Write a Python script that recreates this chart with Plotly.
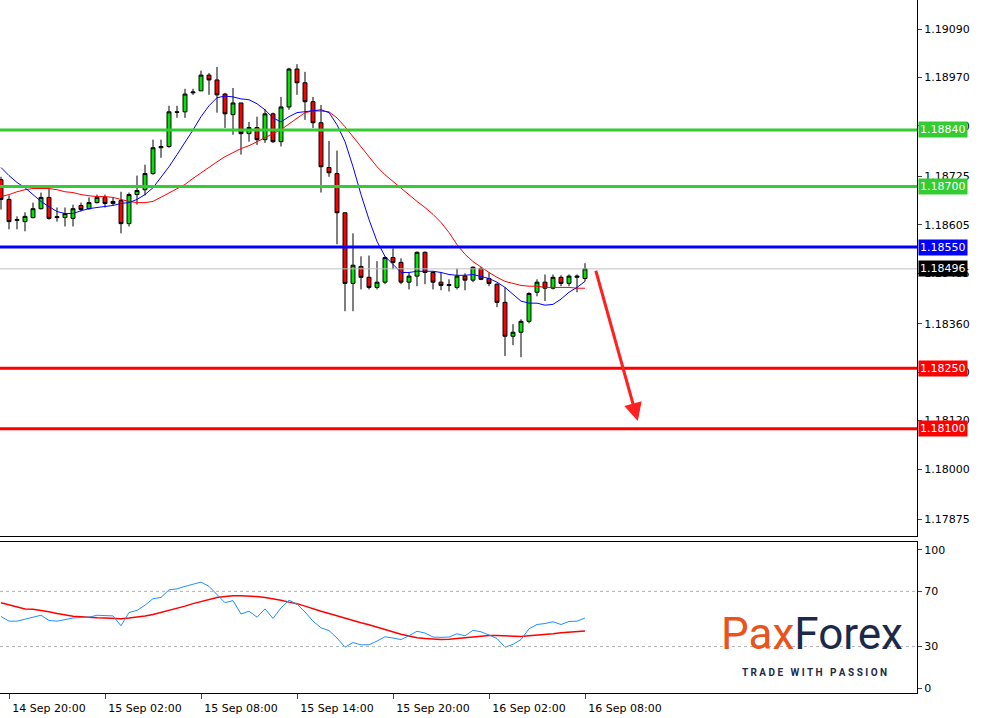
import plotly.graph_objects as go
from plotly.subplots import make_subplots

# EURUSD M30, 74 candles (index 0 = 14 Sep 19:30)
opens = [118717, 118668, 118616, 118613, 118623, 118645, 118673, 118623, 118623, 118621,
         118653, 118645, 118660, 118673, 118658, 118665, 118608, 118680, 118692, 118732,
         118796, 118799, 118885, 118885, 118932, 118937, 118976, 118964, 118929, 118878,
         118907, 118831, 118846, 118816, 118880, 118811, 118897, 118991, 118957, 118910,
         118858, 118747, 118732, 118635, 118460, 118502, 118475, 118450, 118463, 118524,
         118512, 118463, 118478, 118537, 118487, 118463, 118455, 118450, 118478, 118468,
         118497, 118472, 118458, 118413, 118329, 118339, 118366, 118438, 118463, 118448,
         118475, 118460, 118475, 118472]
highs = [118724, 118678, 118626, 118636, 118660, 118685, 118697, 118648, 118648, 118655,
         118660, 118673, 118680, 118680, 118673, 118687, 118685, 118727, 118754, 118816,
         118816, 118900, 118900, 118942, 118942, 118987, 118981, 118996, 118932, 118944,
         118907, 118860, 118873, 118892, 118883, 118922, 118994, 119003, 118984, 118922,
         118902, 118813, 118789, 118635, 118584, 118527, 118529, 118515, 118527, 118547,
         118522, 118487, 118539, 118539, 118490, 118487, 118470, 118497, 118485, 118502,
         118500, 118487, 118460, 118450, 118359, 118371, 118438, 118470, 118482, 118482,
         118480, 118482, 118482, 118510]
lows = [118643, 118594, 118594, 118589, 118621, 118643, 118618, 118613, 118601, 118601,
        118638, 118643, 118658, 118648, 118653, 118584, 118601, 118655, 118678, 118729,
        118771, 118796, 118870, 118870, 118927, 118937, 118927, 118883, 118845, 118828,
        118779, 118811, 118803, 118808, 118808, 118799, 118890, 118927, 118865, 118845,
        118685, 118724, 118557, 118391, 118391, 118445, 118445, 118445, 118458, 118495,
        118458, 118445, 118453, 118458, 118445, 118443, 118440, 118445, 118443, 118463,
        118468, 118453, 118401, 118280, 118307, 118277, 118361, 118428, 118416, 118445,
        118453, 118453, 118438, 118465]
closes = [118668, 118613, 118618, 118626, 118645, 118673, 118621, 118625, 118633, 118645,
          118643, 118660, 118673, 118658, 118663, 118608, 118680, 118690, 118732, 118796,
          118799, 118885, 118884, 118929, 118934, 118976, 118964, 118927, 118880, 118907,
          118831, 118846, 118816, 118880, 118811, 118897, 118991, 118957, 118910, 118858,
          118749, 118734, 118635, 118460, 118505, 118475, 118450, 118463, 118524, 118512,
          118463, 118478, 118537, 118487, 118463, 118455, 118457, 118478, 118468, 118500,
          118470, 118460, 118413, 118329, 118339, 118366, 118435, 118463, 118448, 118475,
          118460, 118478, 118478, 118496]
ma_fast = [118747, 118727, 118710, 118697, 118680, 118663, 118650, 118638, 118633, 118633,
           118640, 118645, 118648, 118650, 118653, 118658, 118660, 118668, 118680, 118697,
           118722, 118749, 118779, 118808, 118840, 118873, 118900, 118920, 118924, 118922,
           118917, 118915, 118905, 118890, 118870, 118860, 118873, 118883, 118885, 118887,
           118890, 118883, 118853, 118811, 118749, 118680, 118618, 118564, 118527, 118507,
           118487, 118487, 118490, 118490, 118490, 118487, 118482, 118480, 118480, 118482,
           118477, 118472, 118463, 118450, 118433, 118416, 118411, 118411, 118406, 118408,
           118421, 118438, 118450, 118465]
ma_slow = [118675, 118680, 118687, 118692, 118695, 118695, 118695, 118692, 118687, 118685,
           118680, 118677, 118675, 118675, 118673, 118668, 118663, 118660, 118660, 118663,
           118673, 118685, 118695, 118705, 118720, 118734, 118749, 118761, 118774, 118784,
           118794, 118801, 118811, 118821, 118831, 118841, 118855, 118870, 118883, 118887,
           118887, 118885, 118870, 118848, 118823, 118799, 118774, 118749, 118729, 118712,
           118697, 118680, 118663, 118648, 118631, 118611, 118586, 118556, 118532, 118514,
           118500, 118487, 118475, 118465, 118460, 118455, 118453, 118453, 118450, 118450,
           118450, 118450, 118448, 118448]
rsi = [51.8, 48.4, 48.4, 49.6, 51.3, 52.7, 48.9, 48.4, 49.6, 50.7,
       51.1, 51.3, 52.7, 52.2, 52.2, 45.1, 54.7, 56.2, 60.0, 64.7,
       65.6, 71.1, 71.8, 73.6, 75.3, 76.7, 73.6, 67.8, 61.8, 63.3,
       53.6, 55.6, 51.3, 57.3, 50.4, 58.0, 63.6, 60.7, 55.1, 48.4,
       43.6, 41.6, 36.2, 29.6, 32.9, 31.3, 31.3, 34.0, 37.1, 36.2,
       35.1, 37.8, 41.1, 39.8, 36.9, 36.7, 36.9, 39.3, 37.8, 41.8,
       40.7, 38.4, 35.8, 29.6, 31.6, 35.1, 42.9, 46.0, 46.7, 48.0,
       46.0, 48.2, 48.4, 50.7]
rsi_ma = [61.8, 60.2, 58.9, 57.3, 57.1, 56.4, 55.3, 54.0, 52.9, 52.0,
          51.6, 51.1, 50.9, 50.7, 50.4, 50.2, 50.7, 51.3, 52.2, 53.3,
          54.7, 56.2, 57.8, 59.3, 61.1, 62.7, 64.2, 65.6, 66.2, 66.9,
          66.9, 66.7, 66.2, 65.6, 64.7, 63.6, 62.2, 61.1, 59.3, 57.3,
          55.6, 54.0, 52.2, 50.4, 48.9, 47.3, 45.8, 44.0, 42.4, 40.7,
          38.9, 37.6, 36.4, 35.8, 35.3, 35.1, 35.3, 35.8, 36.4, 36.9,
          37.6, 38.0, 38.0, 37.8, 37.3, 37.3, 37.8, 38.2, 38.9, 39.3,
          40.0, 40.4, 40.9, 41.3]

price_ticks = [1.19090, 1.18970, 1.18850, 1.18725, 1.18605, 1.18485, 1.18360, 1.18240,
               1.18120, 1.18000, 1.17875]
time_ticks = [1, 13, 25, 37, 49, 61, 73]
time_labels = ['14 Sep 20:00', '15 Sep 02:00', '15 Sep 08:00', '15 Sep 14:00',
               '15 Sep 20:00', '16 Sep 02:00', '16 Sep 08:00']
levels = [1.18840, 1.18700, 1.18550, 1.18250, 1.18100]
level_colors = ['#33cc33', '#33cc33', '#0000ff', '#ff0000', '#ff0000']
last_price = 1.18496
arrow_from = (74.3, 1.18495)
arrow_to = (79.6, 1.18119)

x = list(range(len(opens)))
sc = 1e-5
o = [v * sc for v in opens]
h = [v * sc for v in highs]
l = [v * sc for v in lows]
c = [v * sc for v in closes]

fig = make_subplots(rows=2, cols=1, shared_xaxes=True, vertical_spacing=0.009,
                    row_heights=[0.78, 0.22])

fig.add_trace(go.Candlestick(
    x=x, open=o, high=h, low=l, close=c,
    increasing=dict(line=dict(color='black', width=1), fillcolor='#00e600'),
    decreasing=dict(line=dict(color='black', width=1), fillcolor='#ff0000'),
    whiskerwidth=0, showlegend=False), row=1, col=1)
fig.add_trace(go.Scatter(x=x, y=[v * sc for v in ma_slow], mode='lines',
                         line=dict(color='#ff0000', width=1), showlegend=False), row=1, col=1)
fig.add_trace(go.Scatter(x=x, y=[v * sc for v in ma_fast], mode='lines',
                         line=dict(color='#0000ff', width=1), showlegend=False), row=1, col=1)

fig.add_trace(go.Scatter(x=x, y=rsi_ma, mode='lines',
                         line=dict(color='#ff0000', width=1.5), showlegend=False), row=2, col=1)
fig.add_trace(go.Scatter(x=x, y=rsi, mode='lines',
                         line=dict(color='#1e90ff', width=1), showlegend=False), row=2, col=1)

# horizontal levels
fig.add_hline(y=last_price, line=dict(color='#c0c0c0', width=1), row=1, col=1)
for lv, col in zip(levels, level_colors):
    fig.add_hline(y=lv, line=dict(color=col, width=3), row=1, col=1)
for lv in [30, 70]:
    fig.add_hline(y=lv, line=dict(color='#b0b0b0', width=1, dash='dot'), row=2, col=1)

# right side price boxes
for lv, col in zip(levels + [last_price], level_colors + ['black']):
    fig.add_annotation(x=1.0, xref='paper', y=lv, yref='y', text=f'{lv:.5f}',
                       showarrow=False, xanchor='left', xshift=1, bgcolor=col,
                       font=dict(color='white', size=11, family='DejaVu Sans'),
                       borderpad=1)

# arrow
fig.add_annotation(x=arrow_to[0], y=arrow_to[1], ax=arrow_from[0], ay=arrow_from[1],
                   xref='x', yref='y', axref='x', ayref='y', text='', showarrow=True,
                   arrowhead=2, arrowsize=1.2, arrowwidth=3, arrowcolor='#ff2020')

# logo
fig.add_annotation(x=0.885, y=0.085, xref='paper', yref='paper', showarrow=False,
                   text="<span style='color:#e8541c'>Pax</span><span style='color:#1c2a4a'>Forex</span>",
                   font=dict(size=44, family='Roboto'), xanchor='center', yanchor='middle')
fig.add_annotation(x=0.888, y=0.029, xref='paper', yref='paper', showarrow=False,
                   xanchor='center', yanchor='middle',
                   text="<b>T R A D E   W I T H   P A S S I O N</b>",
                   font=dict(size=10, color='#1c2a4a', family='Roboto'))

axis_common = dict(showgrid=False, zeroline=False, showline=True, linecolor='black',
                   mirror=True, range=[-0.125, 114.5])
fig.update_xaxes(**axis_common)
fig.update_xaxes(showticklabels=False, rangeslider_visible=False, row=1, col=1)
fig.update_xaxes(tickvals=time_ticks, ticktext=time_labels, ticks='outside', ticklen=5,
                 ticklabelshift=40, tickfont=dict(size=11), row=2, col=1)
fig.update_yaxes(side='right', showgrid=False, zeroline=False, showline=True,
                 linecolor='black', mirror=True, ticks='outside', ticklen=4,
                 tickfont=dict(size=11))
fig.update_yaxes(range=[1.17835, 1.19162], tickvals=price_ticks,
                 ticktext=[f'{t:.5f}' for t in price_ticks], row=1, col=1)
fig.update_yaxes(range=[-3.6, 105.8], tickvals=[0, 30, 70, 100], row=2, col=1)

fig.update_layout(width=982, height=718, margin=dict(l=0, r=65, t=0, b=25),
                  paper_bgcolor='white', plot_bgcolor='white',
                  font=dict(family='DejaVu Sans', color='black'))

fig.write_html("out.html", config={'displayModeBar': False},
               post_script="document.body.style.margin='0';")
